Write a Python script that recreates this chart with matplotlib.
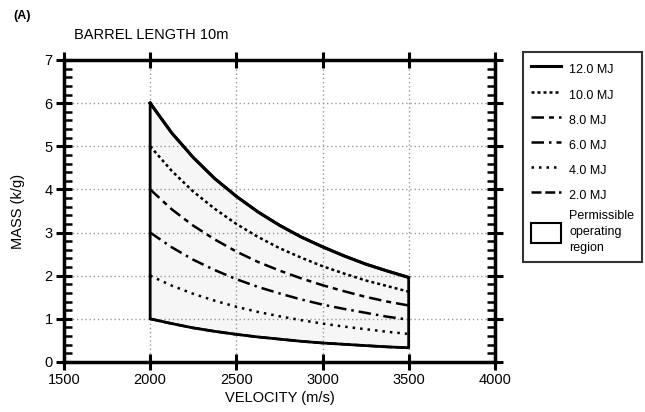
import numpy as np
import matplotlib.pyplot as plt
from matplotlib.patches import Patch
from matplotlib.ticker import MultipleLocator

plt.rcParams["font.family"] = ["Liberation Sans", "DejaVu Sans"]

# velocity (m/s) and mass (kg)
velocity = [2000, 2125, 2250, 2375, 2500, 2625, 2750, 2875, 3000, 3125, 3250, 3375, 3500]
mass_12 = [6.00, 5.31, 4.74, 4.25, 3.84, 3.48, 3.17, 2.90, 2.67, 2.46, 2.27, 2.11, 1.96]
mass_10 = [5.00, 4.43, 3.95, 3.55, 3.20, 2.90, 2.64, 2.42, 2.22, 2.05, 1.89, 1.76, 1.63]
mass_8 = [4.00, 3.54, 3.16, 2.84, 2.56, 2.32, 2.12, 1.94, 1.78, 1.64, 1.51, 1.40, 1.31]
mass_6 = [3.00, 2.66, 2.37, 2.13, 1.92, 1.74, 1.59, 1.45, 1.33, 1.23, 1.14, 1.05, 0.98]
mass_4 = [2.00, 1.77, 1.58, 1.42, 1.28, 1.16, 1.06, 0.97, 0.89, 0.82, 0.76, 0.70, 0.65]
mass_2 = [1.00, 0.89, 0.79, 0.71, 0.64, 0.58, 0.53, 0.48, 0.44, 0.41, 0.38, 0.35, 0.33]

labels = ["12.0 MJ", "10.0 MJ", "8.0 MJ", "6.0 MJ", "4.0 MJ", "2.0 MJ"]
x_ticks = [1500, 2000, 2500, 3000, 3500, 4000]
y_ticks = [0, 1, 2, 3, 4, 5, 6, 7]

fig = plt.figure(figsize=(6.45, 4.12), dpi=100)
ax = fig.add_axes([0.0992, 0.1214, 0.668, 0.733])

v = np.array(velocity)
# permissible operating region (outline + light fill)
region_x = np.concatenate([v, v[::-1]])
region_y = np.concatenate([mass_12, mass_2[::-1]])
ax.fill(region_x, region_y, facecolor="#f6f6f6", edgecolor="none", zorder=1)

lw = 1.8
h12, = ax.plot(v, mass_12, color="black", lw=2.2, ls="-", zorder=4)
h10, = ax.plot(v, mass_10, color="black", lw=lw, ls=(0, (1.2, 1.2)), zorder=3)
h8, = ax.plot(v, mass_8, color="black", lw=lw, ls=(0, (5, 2, 2, 2)), zorder=3)
h6, = ax.plot(v, mass_6, color="black", lw=lw, ls=(0, (5, 2, 1, 2)), zorder=3)
h4, = ax.plot(v, mass_4, color="black", lw=lw, ls=(0, (1, 2)), zorder=3)
h2, = ax.plot(v, mass_2, color="black", lw=lw, ls=(0, (4, 1.5)), zorder=3)

# solid outline of the region
ax.plot(region_x.tolist() + [region_x[0]], region_y.tolist() + [region_y[0]],
        color="black", lw=2.0, zorder=4)

ax.set_xlim(1500, 4000)
ax.set_ylim(0, 7)
ax.set_xticks(x_ticks)
ax.set_yticks(y_ticks)
ax.yaxis.set_minor_locator(MultipleLocator(0.2))
ax.grid(True, which="major", color="#999999", ls=(0, (1, 2)), lw=1.0, zorder=0)

for s in ax.spines.values():
    s.set_linewidth(2.5)
ax.tick_params(which="major", direction="inout", length=12, width=2.2,
               top=True, right=True, labelsize=10.5, pad=2)
ax.tick_params(which="minor", direction="in", length=6, width=1.8,
               left=True, right=True)

ax.set_xlabel("VELOCITY (m/s)", fontsize=10.5, labelpad=3)
ax.set_ylabel("MASS (k/g)", fontsize=10.5, labelpad=14)
fig.text(0.115, 0.905, "BARREL LENGTH 10m", fontsize=10.5)
fig.text(0.02, 0.955, "(A)", fontsize=9, fontweight="bold")

handles = [h12, h10, h8, h6, h4, h2,
           Patch(facecolor="white", edgecolor="black", lw=1.5)]
leg = fig.legend(handles, labels + ["Permissible\noperating\nregion"],
                 loc="upper left", bbox_to_anchor=(0.811, 0.874),
                 borderaxespad=0, fontsize=9, frameon=True, fancybox=False,
                 handlelength=2.4, handleheight=2.1, labelspacing=0.4,
                 borderpad=0.6, handletextpad=0.7)
leg.get_texts()[-1].set_linespacing(1.45)
leg.get_frame().set_edgecolor("black")
leg.get_frame().set_linewidth(1.5)

fig.savefig("out.png", dpi=100)
